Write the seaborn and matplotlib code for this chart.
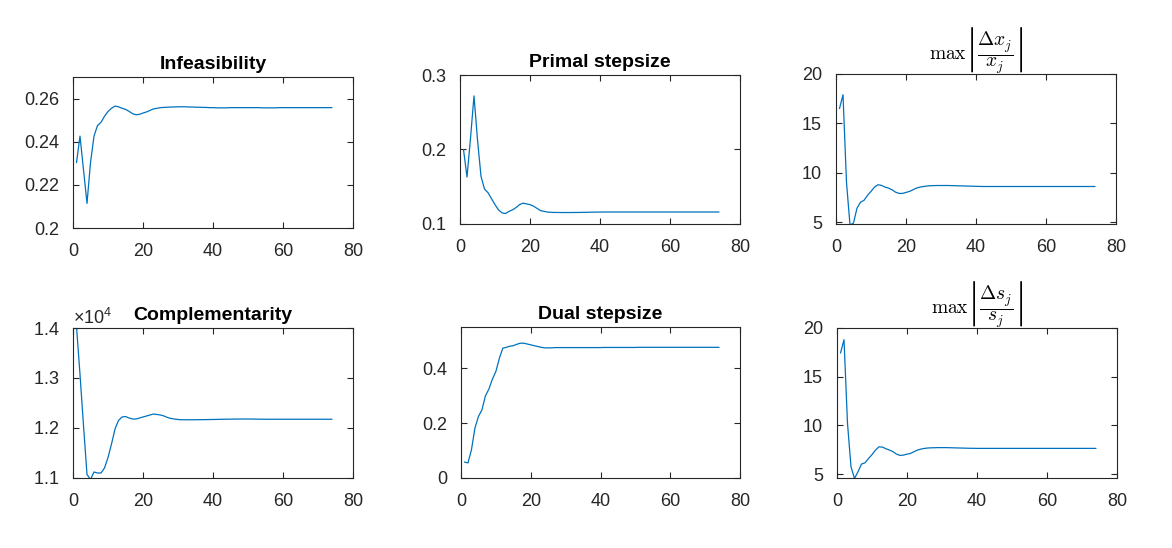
import numpy as np
import pandas as pd
import matplotlib
matplotlib.use("Agg")
import matplotlib.pyplot as plt
from matplotlib.ticker import FuncFormatter, ScalarFormatter, FixedLocator
import seaborn as sns

# ---------------- data ----------------
infeasibility = [
    0.2303, 0.2426, 0.2270, 0.2114, 0.2303, 0.2426, 0.2475, 0.2490, 0.2518, 0.2540,
    0.2555, 0.2565, 0.2562, 0.2555, 0.2550, 0.2541, 0.2530, 0.2525, 0.2527, 0.2533,
    0.2538, 0.2545, 0.2552, 0.2555, 0.2558, 0.2559, 0.2560, 0.2561, 0.2561, 0.2562,
    0.2562, 0.2562, 0.2561, 0.2561, 0.2560, 0.2560, 0.2559, 0.2559, 0.2558, 0.2558,
    0.2557, 0.2557, 0.2557, 0.2557, 0.2558, 0.2558, 0.2558, 0.2558, 0.2558, 0.2558,
    0.2558, 0.2558, 0.2558, 0.2557, 0.2557, 0.2557, 0.2557, 0.2557, 0.2558, 0.2558,
    0.2558, 0.2558, 0.2558, 0.2558, 0.2558, 0.2558, 0.2558, 0.2558, 0.2558, 0.2558,
    0.2558, 0.2558, 0.2558, 0.2558,
]
primal_step = [
    0.200, 0.163, 0.215, 0.272, 0.213, 0.164, 0.147, 0.142, 0.134, 0.126,
    0.119, 0.115, 0.114, 0.117, 0.119, 0.122, 0.126, 0.128, 0.127, 0.126,
    0.124, 0.121, 0.118, 0.117, 0.116, 0.1157, 0.1155, 0.1155, 0.1154, 0.1154,
    0.1154, 0.1154, 0.1155, 0.1155, 0.1156, 0.1157, 0.1158, 0.1159, 0.1160, 0.1160,
    0.1161, 0.1161, 0.1161, 0.1161, 0.1161, 0.1161, 0.1161, 0.1161, 0.1161, 0.1161,
    0.1161, 0.1161, 0.1161, 0.1161, 0.1161, 0.1161, 0.1161, 0.1161, 0.1161, 0.1161,
    0.1161, 0.1161, 0.1161, 0.1161, 0.1161, 0.1161, 0.1161, 0.1161, 0.1161, 0.1161,
    0.1161, 0.1161, 0.1161, 0.1161,
]
max_dx = [
    16.5, 17.9, 9.0, 4.7, 4.9, 6.4, 7.0, 7.2, 7.7, 8.1,
    8.54, 8.78, 8.71, 8.54, 8.44, 8.27, 8.03, 7.90, 7.90, 8.00,
    8.10, 8.27, 8.44, 8.54, 8.60, 8.65, 8.68, 8.69, 8.70, 8.70,
    8.70, 8.70, 8.69, 8.68, 8.67, 8.66, 8.65, 8.64, 8.63, 8.62,
    8.61, 8.60, 8.60, 8.60, 8.60, 8.60, 8.60, 8.60, 8.60, 8.60,
    8.60, 8.60, 8.60, 8.60, 8.60, 8.60, 8.60, 8.60, 8.60, 8.60,
    8.60, 8.60, 8.60, 8.60, 8.60, 8.60, 8.60, 8.60, 8.60, 8.60,
    8.60, 8.60, 8.60, 8.60,
]
complementarity = [
    14030, 13070, 12050, 11070, 10970, 11120, 11100, 11100, 11200, 11410,
    11680, 11980, 12150, 12220, 12230, 12200, 12180, 12180, 12200, 12220,
    12240, 12260, 12280, 12270, 12260, 12240, 12210, 12190, 12180, 12170,
    12165, 12165, 12165, 12165, 12165, 12166, 12167, 12168, 12169, 12170,
    12172, 12174, 12175, 12176, 12177, 12178, 12179, 12180, 12180, 12180,
    12179, 12178, 12177, 12176, 12175, 12175, 12175, 12175, 12175, 12175,
    12175, 12175, 12175, 12175, 12175, 12175, 12175, 12175, 12175, 12175,
    12175, 12175, 12175, 12175,
]
dual_step = [
    0.058, 0.055, 0.103, 0.182, 0.224, 0.248, 0.299, 0.324, 0.360, 0.388,
    0.436, 0.473, 0.476, 0.480, 0.482, 0.487, 0.491, 0.491, 0.488, 0.485,
    0.482, 0.479, 0.476, 0.474, 0.474, 0.474, 0.475, 0.475, 0.475, 0.475,
    0.475, 0.475, 0.475, 0.475, 0.475, 0.475, 0.475, 0.475, 0.475, 0.475,
    0.4755, 0.4755, 0.4755, 0.4755, 0.4755, 0.4755, 0.4755, 0.4755, 0.4755, 0.4755,
    0.476, 0.476, 0.476, 0.476, 0.476, 0.476, 0.476, 0.476, 0.476, 0.476,
    0.476, 0.476, 0.476, 0.476, 0.476, 0.476, 0.476, 0.476, 0.476, 0.476,
    0.476, 0.476, 0.476, 0.476,
]
max_ds = [
    17.43, 18.8, 10.2, 5.75, 4.55, 5.24, 6.03, 6.16, 6.60, 7.00,
    7.47, 7.80, 7.77, 7.60, 7.47, 7.30, 7.05, 6.92, 6.95, 7.05,
    7.12, 7.30, 7.47, 7.57, 7.64, 7.68, 7.70, 7.71, 7.72, 7.72,
    7.72, 7.71, 7.70, 7.69, 7.68, 7.67, 7.66, 7.65, 7.65, 7.64,
    7.64, 7.64, 7.64, 7.64, 7.64, 7.64, 7.64, 7.64, 7.64, 7.64,
    7.64, 7.64, 7.64, 7.64, 7.64, 7.64, 7.64, 7.64, 7.64, 7.64,
    7.64, 7.64, 7.64, 7.64, 7.64, 7.64, 7.64, 7.64, 7.64, 7.64,
    7.64, 7.64, 7.64, 7.64,
]

titles = [
    "Infeasibility",
    "Primal stepsize",
    r"$\max\left|\dfrac{\Delta x_j}{x_j}\right|$",
    "Complementarity",
    "Dual stepsize",
    r"$\max\left|\dfrac{\Delta s_j}{s_j}\right|$",
]
series = [infeasibility, primal_step, max_dx, complementarity, dual_step, max_ds]
ylims = [(0.2, 0.27), (0.1, 0.3), (4.8, 20), (1.1e4, 1.4e4), (0.0, 0.55), (4.6, 20)]
yticks = [
    [0.2, 0.22, 0.24, 0.26],
    [0.1, 0.2, 0.3],
    [5, 10, 15, 20],
    [1.1e4, 1.2e4, 1.3e4, 1.4e4],
    [0, 0.2, 0.4],
    [5, 10, 15, 20],
]
xticks = [0, 20, 40, 60, 80]

# ---------------- style ----------------
sns.set_theme(style="white")
plt.rcParams["font.family"] = ["Liberation Sans", "DejaVu Sans"]
plt.rcParams["mathtext.fontset"] = "custom"
plt.rcParams["mathtext.rm"] = "Liberation Sans"
plt.rcParams["mathtext.it"] = "Liberation Sans:italic"

LINE = "#0072BD"
AXC = "#262626"

W, H = 1172, 548
fig = plt.figure(figsize=(W / 100, H / 100), dpi=100)
fig.patch.set_facecolor("white")

# pixel boxes: left, right, top, bottom
boxes = [
    (73, 353, 77, 228),
    (460, 740, 75, 224),
    (836, 1116, 74, 224),
    (73, 353, 328, 478),
    (461, 740, 327, 478),
    (837, 1117, 328, 478),
]

for i, (title, yv, yl, yt, box) in enumerate(zip(titles, series, ylims, yticks, boxes)):
    l, r, t, b = box
    ax = fig.add_axes([l / W, (H - b) / H, (r - l) / W, (b - t) / H])
    df = pd.DataFrame({"iter": np.arange(1, len(yv) + 1), "val": yv})
    sns.lineplot(data=df, x="iter", y="val", ax=ax, color=LINE, linewidth=0.9)
    ax.set_xlim(0, 80)
    ax.set_ylim(*yl)
    ax.xaxis.set_major_locator(FixedLocator(xticks))
    ax.yaxis.set_major_locator(FixedLocator(yt))
    ax.set_xlabel("")
    ax.set_ylabel("")
    if i == 3:
        fmt = ScalarFormatter(useMathText=True)
        fmt.set_powerlimits((-3, 3))
        fmt.set_useOffset(False)
        ax.yaxis.set_major_formatter(fmt)
        ax.yaxis.get_offset_text().set_fontsize(13)
        ax.yaxis.get_offset_text().set_color(AXC)
    else:
        ax.yaxis.set_major_formatter(FuncFormatter(lambda v, p: "%g" % v))
    ax.xaxis.set_major_formatter(FuncFormatter(lambda v, p: "%g" % v))
    for sp in ax.spines.values():
        sp.set_visible(True)
        sp.set_color(AXC)
        sp.set_linewidth(0.8)
    ax.tick_params(direction="in", length=4, width=0.8, colors=AXC,
                   labelsize=13, top=True, right=True, bottom=True, left=True,
                   labelcolor=AXC)
    ax.tick_params(axis="x", pad=11)
    ax.tick_params(axis="y", pad=10)
    if title.startswith("$"):
        ax.set_title(title, fontsize=14, color="black", pad=10, math_fontfamily="cm")
    else:
        ax.set_title(title, fontsize=14, fontweight="bold", color="black", pad=6)

fig.savefig("out.png", dpi=100, facecolor="white")
